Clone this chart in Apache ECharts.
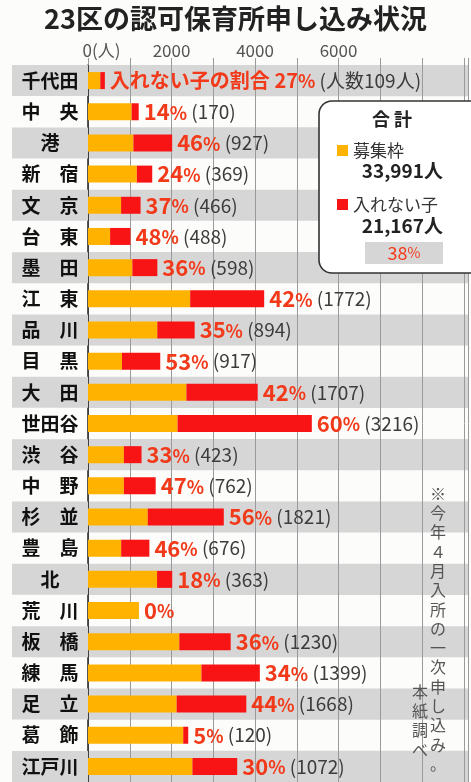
<!DOCTYPE html>
<html><head><meta charset="utf-8">
<script src="https://cdn.jsdelivr.net/npm/echarts@6/dist/echarts.min.js"></script>
<style>html,body{margin:0;padding:0;background:#fcfcfa;}#c{width:471px;height:782px;}</style>
</head><body><div id="c"></div>
<script>
const categories = ['千代田','中央','港','新宿','文京','台東','墨田','江東','品川','目黒','大田','世田谷','渋谷','中野','杉並','豊島','北','荒川','板橋','練馬','足立','葛飾','江戸川'];
const capacity = [295,1044,1088,1169,793,529,1063,2447,1660,813,2357,2144,859,859,1431,794,1654,1220,2187,2716,2123,2280,2501];
const unplaced = [109,170,927,369,466,488,598,1772,894,917,1707,3216,423,762,1821,676,363,0,1230,1399,1668,120,1072];
const shares = [27,14,46,24,37,48,36,42,35,53,42,60,33,47,56,46,18,0,36,34,44,5,30];
const tickValues = [0,2000,4000,6000];
const tickLabels = ['0(人)','2000','4000','6000'];
const totalCapacity = '33,991人';
const totalUnplaced = '21,167人';
const totalShare = '38';
const seriesNames = ['募集枠','入れない子'];
const titleText = '23区の認可保育所申し込み状況';
const noteRight = '※今年４月入所の一次申し込み。';
const noteLeft = '本紙調べ';

const FONT = '"Noto Sans CJK JP", "Noto Sans", sans-serif';
const ORANGE = '#ffb300', RED = '#f81414', PCT = '#f23a1a', GRAY = '#d6d6d6';

const chart = echarts.init(document.getElementById('c'));
chart.setOption({
  backgroundColor: '#fcfcfa',
  animation: false,
  textStyle: { fontFamily: FONT },
  grid: { left: 88, right: 0, top: 65, bottom: 0 },
  xAxis: {
    type: 'value', position: 'top', min: 0, max: 9100, interval: 1000,
    axisLine: { show: false },
    axisTick: { show: true, length: 7, lineStyle: { color: '#9a9a9a', width: 1 } },
    splitLine: { show: true, lineStyle: { color: '#9a9a9a', width: 1 } },
    axisLabel: {
      margin: 6, color: '#555', fontSize: 17, fontFamily: FONT,
      formatter: function (v) {
        const i = tickValues.indexOf(v);
        if (i < 0) return '';
        if (i === 0) return '{sp| }{t|' + tickLabels[0] + '}';
        return '{t|' + tickLabels[i] + '}';
      },
      rich: { sp: { width: 27 }, t: { fontSize: 17, color: '#555', fontFamily: FONT } }
    }
  },
  yAxis: {
    type: 'category', data: categories, inverse: true,
    axisLine: { show: true, lineStyle: { color: '#222', width: 1.5 } },
    axisTick: { show: false },
    splitArea: { show: true, areaStyle: { color: [GRAY, 'rgba(0,0,0,0)'] } },
    axisLabel: {
      margin: 0, interval: 0,
      formatter: function (v, i) {
        const s = v.length === 2 ? v[0] + '　' + v[1] : v;
        return (i % 2 === 0 ? '{g|' : '{w|') + s + '}';
      },
      rich: {
        g: { backgroundColor: GRAY, width: 76, height: 31, lineHeight: 31, align: 'center', fontSize: 19, fontWeight: 'bold', color: '#111', fontFamily: FONT },
        w: { width: 76, height: 31, lineHeight: 31, align: 'center', fontSize: 19, fontWeight: 'bold', color: '#111', fontFamily: FONT }
      }
    }
  },
  legend: [
    { data: [seriesNames[0]], left: 332, top: 137, icon: 'rect', itemWidth: 11, itemHeight: 11, selectedMode: false, z: 20,
      textStyle: { fontSize: 17, color: '#333', fontFamily: FONT } },
    { data: [seriesNames[1]], left: 332, top: 191, icon: 'rect', itemWidth: 11, itemHeight: 11, selectedMode: false, z: 20,
      textStyle: { fontSize: 17, color: '#333', fontFamily: FONT } }
  ],
  series: [
    { name: seriesNames[0], type: 'bar', stack: 'a', barWidth: 17, data: capacity, itemStyle: { color: ORANGE } },
    { name: seriesNames[1], type: 'bar', stack: 'a', barWidth: 17, data: unplaced, itemStyle: { color: RED },
      label: {
        show: true, position: 'right', distance: 5,
        formatter: function (p) {
          const i = p.dataIndex;
          if (i === 0) return '{p0|入れない子の割合 ' + shares[i] + '}{u|%}{c| (人数' + unplaced[i] + '人)}';
          if (unplaced[i] === 0) return '{p|' + shares[i] + '}{u|%}';
          return '{p|' + shares[i] + '}{u|%}{c| (' + unplaced[i] + ')}';
        },
        rich: {
          p0: { fontSize: 20, fontWeight: 'bold', color: PCT, fontFamily: FONT },
          p: { fontSize: 22, fontWeight: 'bold', color: PCT, fontFamily: FONT },
          u: { fontSize: 18, fontWeight: 'bold', color: PCT, fontFamily: FONT, padding: [2, 0, 0, 0] },
          c: { fontSize: 19, color: '#3c3c3c', fontFamily: FONT }
        }
      }
    }
  ],
  graphic: [
    { type: 'text', left: 'center', top: 5, style: { text: titleText, font: 'bold 27px ' + FONT, fill: '#222' } },
    { type: 'rect', shape: { x: 319, y: 101, width: 175, height: 172, r: 13 }, style: { fill: '#fff', stroke: '#333', lineWidth: 1.6 }, z: 10 },
    { type: 'text', x: 392, y: 119, style: { text: '合 計', font: 'bold 18px ' + FONT, fill: '#222', align: 'center', verticalAlign: 'middle' }, z: 20 },
    { type: 'text', x: 443, y: 171, style: { text: totalCapacity, font: 'bold 19px ' + FONT, fill: '#222', align: 'right', verticalAlign: 'middle' }, z: 20 },
    { type: 'text', x: 443, y: 226, style: { text: totalUnplaced, font: 'bold 19px ' + FONT, fill: '#222', align: 'right', verticalAlign: 'middle' }, z: 20 },
    { type: 'rect', shape: { x: 365, y: 242, width: 78, height: 22 }, style: { fill: GRAY }, z: 20 },
    { type: 'text', x: 404, y: 253, style: { text: '{p|' + totalShare + '}{u|%}', rich: { p: { font: '18px ' + FONT, fill: PCT }, u: { font: '14px ' + FONT, fill: PCT } }, align: 'center', verticalAlign: 'middle' }, z: 21 },
    { type: 'text', x: 438, y: 484, style: { text: noteRight.split('').join('\n'), font: '16px ' + FONT, lineHeight: 19.3, fill: '#555', align: 'center', verticalAlign: 'top' }, z: 20 },
    { type: 'text', x: 420, y: 682, style: { text: noteLeft.split('').join('\n'), font: '16px ' + FONT, lineHeight: 19.3, fill: '#555', align: 'center', verticalAlign: 'top' }, z: 20 }
  ]
});
</script></body></html>
